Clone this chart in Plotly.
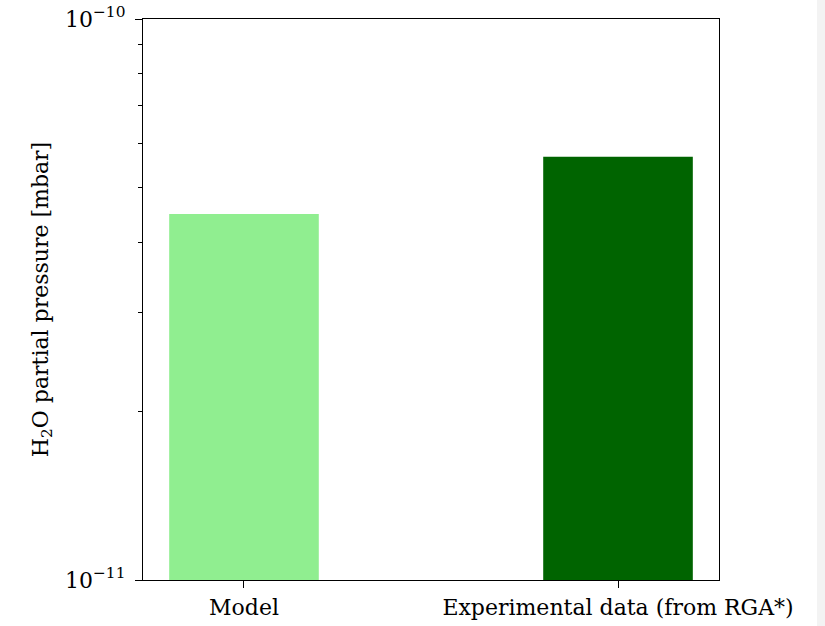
import plotly.graph_objects as go
import numpy as np

categories = ["Model", "Experimental data (from RGA*)"]
values = [4.49e-11, 5.68e-11]
colors = ["#90EE90", "#006400"]
ytick_vals = [1e-11, 1e-10]
ytick_text = ["10<sup>\u221211</sup>", "10<sup>\u221210</sup>"]
minor_vals = [k * 1e-11 for k in range(2, 10)]

FONT = "DejaVu Serif"
FS = 22

fig = go.Figure()
fig.add_trace(go.Bar(
    x=[0, 1], y=values, width=0.4,
    marker=dict(color=colors, line=dict(width=0)),
    showlegend=False,
))

L, R, T, B = 143, 106, 19, 46
fig.update_layout(
    width=825, height=626,
    margin=dict(l=L, r=R, t=T, b=B),
    paper_bgcolor="white", plot_bgcolor="white",
    font=dict(family=FONT, size=FS, color="black"),
    xaxis=dict(
        range=[-0.27, 1.27], tickmode="array", tickvals=[0, 1], ticktext=categories,
        ticks="outside", ticklen=7, tickwidth=1.3, tickcolor="black",
        showline=True, linecolor="black", linewidth=1.3, mirror=True,
        showgrid=False, zeroline=False, tickfont=dict(family=FONT, size=FS),
        ticklabeloverflow="allow", automargin=False,
    ),
    yaxis=dict(
        type="log", range=[-11, -10], tickmode="array", tickvals=ytick_vals, ticktext=ytick_text,
        ticks="outside", ticklen=7, tickwidth=1.3, tickcolor="black",
        minor=dict(tickmode="array", tickvals=minor_vals, ticks="outside", ticklen=4,
                   tickwidth=1, tickcolor="black", showgrid=False),
        showline=True, linecolor="black", linewidth=1.3, mirror=True,
        showgrid=False, zeroline=False, tickfont=dict(family=FONT, size=FS),
        ticklabeloverflow="allow", ticklabelstandoff=5, automargin=False,
        title=dict(text="H<sub>2</sub>O partial pressure [mbar]", font=dict(family=FONT, size=FS), standoff=10),
    ),
    shapes=[dict(type="rect", xref="paper", yref="paper",
                 x0=(817 - L) / 576, x1=(830 - L) / 576,
                 y0=-60 / 561, y1=1 + 25 / 561, fillcolor="#f3f3f3", line=dict(width=0), layer="below")],
)

fig.write_html("out.html", config={"displayModeBar": False},
               post_script="document.body.style.margin='0';document.body.style.overflow='hidden';")
